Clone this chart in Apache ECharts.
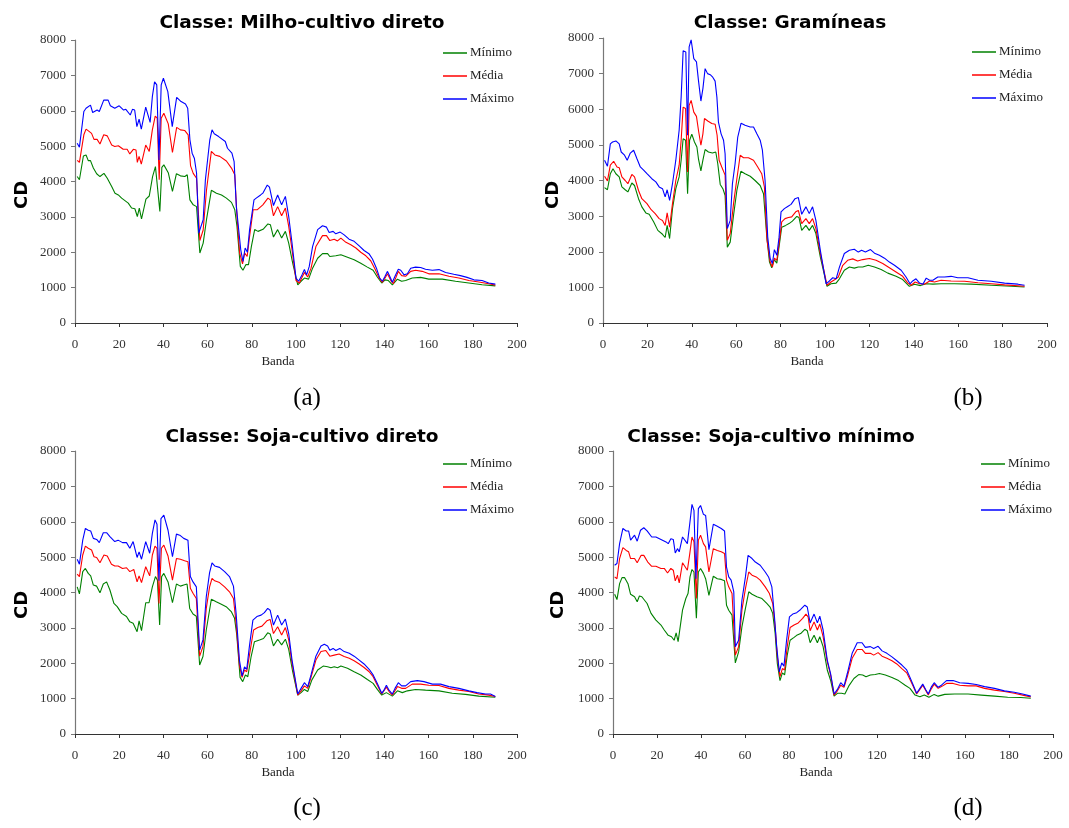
<!DOCTYPE html>
<html><head><meta charset="utf-8">
<script src="https://cdn.jsdelivr.net/npm/echarts@6/dist/echarts.min.js"></script>
<style>html,body{margin:0;padding:0;background:#fff}#c{width:1069px;height:828px}</style>
</head><body><div id="c"></div>
<script>
const seriesNames = ['Mínimo', 'Média', 'Máximo'];
const panelTitles = ['Classe: Milho-cultivo direto', 'Classe: Gramíneas', 'Classe: Soja-cultivo direto', 'Classe: Soja-cultivo mínimo'];
const panelLetters = ['(a)', '(b)', '(c)', '(d)'];
const xTicks = [0, 20, 40, 60, 80, 100, 120, 140, 160, 180, 200];
const yTicks = [0, 1000, 2000, 3000, 4000, 5000, 6000, 7000, 8000];

// Panel (a) Milho-cultivo direto: [banda, CD]
const milhoMin = [[1,4140],[2,4050],[3.8,4720],[5,4750],[6,4590],[7,4590],[8.3,4380],[9.8,4220],[11.3,4140],[13.1,4230],[14.6,4090],[16.6,3860],[18.1,3670],[19.6,3620],[21.1,3530],[22.6,3460],[24.1,3390],[25.6,3250],[27.1,3230],[28.2,3010],[29.1,3250],[30.1,2940],[32.1,3500],[33.6,3590],[35.1,4140],[36.4,4420],[37.3,4380],[38.4,3150],[39.3,4400],[40.2,4470],[42.2,4250],[44.1,3720],[45.9,4220],[47.7,4160],[49.7,4140],[50.8,4190],[52,3480],[53.5,3340],[55,3290],[56.5,1980],[58,2260],[59.5,2920],[61.7,3750],[64,3670],[66.3,3620],[68.5,3530],[70.8,3410],[72.3,3200],[73.3,2730],[74.8,1600],[76,1490],[77.3,1650],[78.5,1650],[79.8,2160],[81.3,2640],[82.8,2590],[85.1,2650],[87.3,2800],[88.4,2780],[89.8,2430],[91.7,2640],[93.5,2400],[95.2,2590],[96.7,2260],[98.5,1690],[100.8,1080],[102.3,1180],[103.8,1270],[105.7,1240],[107.5,1550],[109.8,1830],[112,1960],[114.3,1960],[115.3,1880],[118,1900],[120.3,1930],[123.3,1860],[126.3,1790],[129.3,1690],[132.3,1580],[134.9,1490],[136.8,1300],[138.8,1130],[140.3,1220],[141.8,1200],[143.6,1080],[145.9,1240],[147.8,1180],[149.6,1200],[152.6,1270],[156.4,1290],[160.1,1240],[166.2,1240],[172.2,1180],[178.2,1130],[184.2,1080],[190.2,1050]];
const milhoMed = [[1,4600],[2,4540],[4,5320],[5,5480],[6.5,5410],[7.5,5360],[8.6,5190],[10,5190],[11.3,5060],[13,5320],[14.6,5290],[16.6,5030],[18,4990],[19.6,5010],[21.8,4910],[23.6,4910],[24.8,4780],[26.4,4910],[27.6,4890],[28.2,4540],[29,4710],[30,4490],[32,5030],[33.6,4850],[35,5460],[36.3,5850],[37.2,5790],[38.1,4050],[39,5790],[40.2,5930],[42.2,5630],[44.1,4820],[46,5530],[47.7,5460],[49.7,5440],[51.2,5320],[52.3,4440],[53.5,4230],[55,4090],[56.5,2330],[58,2630],[59.5,3760],[61.7,4850],[63.3,4750],[65.5,4710],[68.5,4580],[70.8,4380],[72.3,4190],[73.3,3010],[74.5,1980],[75.8,1670],[76.8,1980],[77.9,1880],[79,2450],[80.6,3200],[82.4,3200],[85,3340],[87.3,3530],[88.4,3480],[89.8,3030],[91.7,3290],[93.5,3030],[95.2,3250],[96.7,2730],[98.2,2070],[100,1200],[101.5,1130],[103.8,1430],[105.3,1300],[106.8,1550],[109,2160],[112,2470],[113.8,2470],[115.3,2330],[117.3,2370],[118.8,2320],[120.3,2400],[122.6,2280],[124.8,2210],[127.1,2120],[129.3,2000],[131.6,1900],[133.8,1760],[135.8,1520],[137.6,1270],[139.1,1150],[140.3,1270],[141.4,1390],[142.9,1200],[144,1110],[145.1,1270],[146.3,1460],[147.8,1340],[149.6,1320],[151.9,1460],[154.1,1490],[157.1,1460],[160.1,1390],[164.7,1390],[169.2,1320],[173.7,1270],[178.2,1200],[182.7,1160],[187.2,1110],[190.2,1070]];
const milhoMax = [[1,5080],[2,4970],[4,5980],[5,6070],[7,6160],[8,5950],[10,6020],[11,5980],[13,6300],[15,6300],[16,6140],[18,6070],[20,6140],[22,6020],[23,6040],[25,5880],[26,6040],[27,6020],[28,5550],[29,5760],[30,5480],[32,6100],[34,5670],[35,6400],[36,6820],[37,6730],[38,4610],[39,6730],[40,6920],[42,6540],[44,5550],[46,6380],[48,6260],[50,6190],[51,6070],[52,5180],[53,4800],[54,4660],[55,4240],[56,2540],[58,2920],[59,4050],[61,5180],[62,5460],[63,5350],[65,5270],[68,5130],[69,4940],[71,4800],[72,4560],[73,3290],[75,2070],[76,1740],[77,2120],[78,2000],[79,2640],[81,3480],[82,3530],[84,3620],[85,3670],[87,3900],[88,3840],[89.8,3320],[91.7,3620],[93.5,3340],[95.2,3580],[96.7,3010],[98.2,2260],[100,1270],[101.2,1180],[102.7,1360],[103.8,1510],[104.8,1360],[106,1600],[107.5,2160],[109.8,2640],[112,2750],[113.8,2710],[115,2560],[116.8,2590],[118,2520],[120,2570],[121.8,2490],[124,2370],[126.3,2310],[128.6,2180],[130.8,2050],[133,1960],[134.6,1810],[136.4,1550],[137.9,1270],[139.1,1180],[140.3,1320],[141.4,1460],[142.4,1320],[143.6,1150],[144.8,1320],[146.3,1520],[147.4,1490],[148.9,1360],[150.4,1390],[151.9,1550],[154.1,1580],[156.4,1570],[158.6,1520],[161.7,1490],[164.7,1510],[167.7,1430],[171.4,1380],[174.4,1340],[177.4,1290],[180.5,1220],[184.2,1200],[187.2,1130],[190.2,1100]];

// Panel (b) Gramíneas
const gramMin = [[0.7,3800],[2,3740],[3.3,4190],[4.5,4330],[5.8,4190],[7.3,4100],[8.5,3820],[10,3740],[11.2,3680],[13,3930],[14.2,3860],[16,3490],[17.5,3260],[19.3,3090],[20.8,3050],[22.8,2840],[24.7,2600],[26.8,2490],[28,2400],[28.9,2740],[30,2370],[31.3,3210],[32.8,3770],[34.3,4100],[35.2,4570],[36.1,5170],[37.2,5130],[38.1,3630],[39,5130],[40,5300],[41.2,5080],[42.3,4940],[43,4610],[44.1,4270],[45,4570],[46,4870],[47.5,4800],[49.3,4770],[50.8,4800],[51.7,4470],[52.8,3890],[54,3770],[55,3580],[56,2130],[57.3,2270],[58.8,3020],[60.3,3720],[62.1,4260],[64,4190],[66.3,4120],[68.5,4000],[70.8,3860],[72.3,3630],[73.8,2410],[75,1710],[76,1550],[77.1,1780],[78.3,1680],[79.5,2230],[80.5,2690],[82.3,2740],[83.8,2790],[85.3,2860],[87.3,2990],[88.3,2960],[89.5,2600],[91.4,2740],[92.9,2600],[94.4,2740],[95.9,2510],[97.9,1850],[100.9,1030],[102.7,1100],[105,1120],[106.5,1240],[108.7,1480],[111,1570],[113.2,1540],[115,1570],[117,1570],[119.5,1620],[122.3,1570],[125.3,1500],[128.3,1400],[132,1310],[135,1220],[138,1030],[140.3,1090],[143,1050],[145.6,1100],[148.6,1090],[152.3,1100],[158.3,1100],[165.9,1090],[174.9,1060],[183.9,1030],[189.9,1010]];
const gramMed = [[0.7,4120],[2,3990],[3.3,4430],[4.8,4540],[6.3,4380],[7.3,4360],[8.5,4100],[10,4000],[11.2,3910],[13,4170],[14.2,4100],[16,3720],[17.5,3490],[19.8,3350],[21.7,3180],[23.5,3070],[25.3,2930],[26.8,2880],[28,2740],[28.9,3090],[30,2690],[31.3,3350],[32.8,4000],[34.3,4430],[35.2,5130],[36.1,6060],[37.2,6020],[38.1,4240],[38.8,6110],[39.7,6250],[40.9,5920],[42.1,5800],[43,5410],[44.1,4990],[45,5310],[45.7,5740],[47.2,5670],[49,5600],[50.5,5580],[51.4,5270],[52.3,4570],[53.5,4380],[55,4150],[56,2320],[57.3,2510],[58.8,3350],[60.3,4050],[61.8,4710],[63.3,4640],[65.5,4640],[67.8,4570],[69.7,4380],[71.5,4190],[72.7,3820],[73.9,2320],[75.3,1710],[76.3,1570],[77.2,1820],[78.3,1760],[79.5,2320],[80.5,2840],[82,2930],[83.5,2960],[85,2980],[86.8,3120],[88,3160],[89.5,2790],[91.4,2930],[92.9,2790],[94.4,2930],[95.9,2650],[97.9,1950],[100.9,1060],[102.7,1150],[104.5,1220],[106,1290],[108,1620],[110.2,1760],[112.5,1800],[114.7,1740],[117,1780],[120,1810],[123,1760],[126,1670],[129,1550],[132,1430],[135,1310],[137.3,1120],[138.8,1060],[140.6,1150],[142.6,1100],[144.8,1090],[147.1,1180],[149.3,1150],[152.3,1200],[156.8,1180],[162.9,1170],[168.9,1130],[174.9,1100],[180.9,1070],[189.9,1030]];
const gramMax = [[0.7,4570],[2,4400],[3.3,5030],[4.3,5080],[5.8,5110],[7.3,5030],[8.2,4800],[9.7,4710],[10.9,4570],[12.3,4770],[13.8,4850],[15.3,4610],[16.8,4380],[18.3,4290],[19.8,4190],[22,4050],[23.8,3960],[25.3,3820],[26.8,3770],[28,3540],[28.9,3740],[30,3440],[31.3,3910],[32.8,4570],[34.3,5410],[35.2,6340],[36.1,7640],[37.3,7610],[38.1,5270],[38.8,7750],[39.7,7950],[40.9,7420],[42.1,7330],[43,6810],[44.1,6230],[45,6580],[46,7140],[47.1,7000],[48.3,6970],[49.3,6910],[50.5,6790],[51.3,6340],[52,5640],[53.2,5310],[54.3,5130],[55,4750],[56,2650],[57.3,2880],[58.3,3910],[59.5,4470],[60.7,5220],[62.2,5610],[64,5550],[66.3,5500],[67.8,5500],[69.3,5310],[70.8,5130],[71.8,4850],[73,4000],[74.2,2410],[75.3,1810],[76.3,1670],[77.2,2060],[78.3,1900],[79.3,2410],[80.2,3120],[81.7,3210],[83.2,3270],[84.7,3330],[86.5,3490],[88,3520],[89.5,3050],[91.4,3260],[92.9,3070],[94.4,3260],[95.9,2880],[97.9,2040],[100.5,1100],[102,1180],[103.5,1270],[105,1240],[106.5,1570],[108.7,1950],[111,2040],[113.2,2070],[115,1990],[116.5,2040],[118.2,1990],[120.5,2060],[122.3,1960],[124.5,1900],[126.8,1820],[129,1710],[131.3,1620],[134.3,1480],[136.5,1290],[138.3,1100],[139.5,1180],[141,1240],[142.6,1120],[144.1,1090],[145.6,1260],[147.1,1200],[148.6,1200],[150.8,1290],[153.8,1290],[156.8,1310],[159.8,1270],[164.4,1270],[168.9,1200],[174.9,1170],[180.9,1120],[186.9,1090],[189.9,1060]];

// Panel (c) Soja-cultivo direto
const sojaDirMin = [[1,4160],[2,3960],[3.5,4590],[4.7,4680],[6,4540],[7.1,4470],[8.3,4210],[9.8,4180],[11.3,3990],[12.8,4240],[14.3,4300],[15.8,4070],[17.6,3690],[19.1,3600],[21.1,3410],[23.3,3320],[24.8,3170],[26.3,3130],[27.2,3080],[28.1,2890],[29,3200],[30.1,2920],[32,3710],[33.5,3710],[35,4160],[36.4,4450],[37.3,4350],[38.3,3080],[39.2,4450],[40.2,4540],[42.1,4300],[44.1,3710],[45.9,4240],[47.7,4180],[49.2,4210],[50.7,4240],[51.9,3550],[53.4,3390],[54.9,3330],[56.4,1950],[57.9,2190],[59.4,2940],[61.7,3810],[63.9,3740],[66.2,3670],[68.4,3600],[70.7,3460],[72.2,3270],[73.2,2800],[74.7,1600],[75.9,1480],[77.1,1670],[78.2,1620],[79.7,2190],[81.2,2610],[83.5,2660],[85.3,2700],[87.2,2860],[88.3,2830],[89.8,2490],[91.7,2680],[93.5,2520],[95.2,2680],[96.7,2390],[98.5,1760],[100.8,1100],[102.3,1170],[103.8,1260],[105.3,1200],[107.2,1530],[109.8,1810],[112.3,1920],[114.3,1900],[115.8,1870],[117.3,1900],[118.8,1870],[120.3,1920],[123.3,1860],[126.3,1760],[129.3,1670],[132.3,1540],[134.9,1430],[136.8,1260],[138.8,1100],[140.9,1170],[143.6,1070],[145.9,1220],[148.1,1170],[150.4,1220],[154.1,1260],[158.6,1240],[164.7,1220],[170.7,1150],[176.7,1120],[182.7,1070],[190.2,1040]];
const sojaDirMed = [[1,4520],[2,4450],[3.5,5060],[4.7,5310],[6,5250],[7.5,5200],[8.6,5010],[9.8,4990],[11.3,4840],[13.1,5060],[14.6,5030],[16.5,4800],[18,4750],[19.5,4750],[21.5,4680],[23.3,4700],[24.8,4590],[26.6,4650],[27.5,4620],[28.1,4300],[29,4470],[30.1,4280],[32,4730],[33.8,4470],[35,5060],[36.2,5310],[37.1,5250],[38,3690],[39.1,5250],[40.2,5340],[42.1,5030],[44.1,4350],[45.9,4960],[47.7,4940],[49.6,4900],[51.1,4870],[52.2,4120],[53.4,3980],[54.9,3830],[56.4,2200],[57.9,2470],[59.4,3550],[60.9,4160],[62,4400],[63.2,4330],[65.4,4280],[67.7,4160],[69.9,4020],[71.7,3830],[72.9,3130],[74.4,1950],[75.6,1600],[76.7,1810],[77.7,1760],[79.2,2330],[80.8,2940],[82.7,3010],[84.6,3050],[86.8,3200],[88.3,3240],[89.8,2840],[91.7,3030],[93.5,2800],[95.2,3010],[96.7,2660],[98.2,2000],[100.8,1100],[102.3,1220],[103.8,1360],[105.3,1290],[106.8,1600],[109,2090],[111.3,2330],[113.5,2360],[115.3,2200],[117.3,2230],[119.5,2260],[121.8,2190],[124.1,2140],[126.3,2070],[128.6,1980],[130.8,1880],[133.1,1760],[134.9,1620],[136.8,1380],[138.8,1130],[140.9,1320],[142.1,1200],[143.6,1100],[145.9,1340],[147.8,1290],[149.6,1290],[152.6,1410],[156.4,1410],[160.1,1380],[164.7,1370],[169.2,1290],[173.7,1240],[178.2,1200],[182.7,1130],[187.2,1100],[190.2,1060]];
const sojaDirMax = [[1,4940],[2,4800],[3.5,5480],[4.7,5810],[6,5760],[7.1,5740],[8.3,5530],[9.8,5500],[11,5410],[12.8,5690],[14.3,5690],[15.8,5580],[18,5440],[19.5,5480],[21.5,5410],[23.3,5410],[24.8,5250],[26.3,5440],[27.2,5410],[28.1,4990],[29,5150],[30.1,4940],[32,5440],[33.8,5110],[35,5670],[36.2,6050],[37.1,5930],[38,4330],[38.9,6090],[40.2,6190],[42.1,5760],[44.1,5010],[45.9,5650],[47.4,5620],[49.2,5530],[51.1,5480],[52.2,4450],[53.4,4300],[54.9,4160],[56.4,2370],[57.9,2660],[59.4,3880],[60.9,4560],[62,4840],[63.2,4750],[65.4,4710],[67.7,4590],[69.9,4450],[71.7,4180],[72.9,3410],[74.4,2090],[75.6,1640],[76.7,1900],[77.7,1830],[78.9,2470],[80.5,3220],[82.3,3320],[84.2,3360],[85.7,3430],[87.2,3550],[88.3,3500],[89.8,3080],[91.7,3360],[93.5,3080],[95.2,3250],[96.7,2840],[98.2,2090],[100.8,1130],[102.3,1290],[103.8,1450],[105.3,1340],[106.8,1670],[109,2200],[111.3,2490],[112.8,2540],[114.3,2490],[115.3,2370],[116.8,2420],[118,2360],[119.8,2420],[121.8,2330],[124.1,2280],[126.3,2200],[128.6,2090],[130.8,1980],[133.1,1830],[134.9,1670],[136.8,1430],[138.8,1150],[139.8,1240],[140.9,1380],[142.1,1240],[143.6,1130],[144.8,1290],[146.3,1450],[147.8,1360],[149.6,1360],[151.9,1480],[154.9,1510],[157.9,1480],[161.7,1410],[165.4,1410],[169.2,1340],[173.7,1290],[178.2,1220],[181.9,1170],[185.7,1130],[188,1130],[190.2,1060]];

// Panel (d) Soja-cultivo mínimo
const sojaMinMin = [[0.75,3950],[1.8,3800],[3,4250],[4.1,4420],[5.3,4420],[6.8,4250],[8,3950],[9.8,3880],[11,3740],[12,3900],[13.1,3880],[14,3920],[15.5,3690],[17.3,3410],[19.5,3220],[21.8,3080],[23.3,2940],[25.1,2790],[26.6,2750],[27.8,2650],[28.7,2860],[29.6,2610],[31.6,3500],[33.1,3830],[34.1,3970],[35,4440],[35.9,4650],[36.8,4580],[37.9,3270],[38.8,4580],[39.8,4680],[41.1,4540],[42.1,4390],[43.6,3920],[45.6,4460],[47.4,4390],[49.2,4370],[50.7,4330],[51.6,3640],[52.6,3500],[54.1,3360],[55.6,2010],[57.1,2320],[58.6,3030],[60.2,3550],[61.7,4020],[63.2,3950],[65.4,3880],[67.7,3830],[69.9,3690],[71.4,3590],[72.6,3410],[73.7,2840],[74.7,1990],[75.9,1510],[77,1730],[78,1670],[79.2,2230],[80.5,2650],[82.3,2730],[83.5,2790],[85.3,2840],[87.2,2960],[88.3,2920],[89.6,2580],[91.4,2790],[92.9,2580],[94,2750],[95.5,2470],[97.4,1810],[98.9,1520],[100.5,1070],[102,1150],[103.9,1150],[105.4,1130],[107.2,1360],[109.5,1570],[111.7,1680],[113.5,1670],[115,1620],[117,1670],[119.2,1680],[121.1,1710],[123.8,1670],[126.8,1600],[129.8,1510],[132.8,1380],[135,1290],[137.3,1100],[139.5,1050],[141.5,1100],[143.6,1040],[146,1120],[147.8,1070],[150.8,1120],[155.3,1130],[161.4,1130],[167.4,1100],[173.4,1070],[179.4,1040],[185.4,1030],[189.9,1010]];
const sojaMinMed = [[0.75,4440],[1.8,4390],[3,4960],[4.5,5270],[6,5190],[7.1,5150],[8,4960],[9.8,4960],[11,4840],[12.8,5050],[14,5050],[15.8,4860],[17.6,4740],[19.5,4740],[21.8,4680],[23.3,4680],[24.8,4550],[26.3,4680],[27.4,4630],[28.3,4330],[29.3,4490],[30.1,4270],[31.6,4840],[33.8,4630],[34.9,5100],[35.9,5570],[36.8,5430],[37.9,3830],[38.8,5480],[39.8,5620],[41.1,5380],[42.1,5290],[43.6,4580],[45.6,5240],[47.4,5190],[49.2,5150],[50.7,5100],[51.6,4350],[52.6,4160],[54.1,3970],[55.6,2230],[57.1,2470],[58.6,3500],[60.2,4110],[61.7,4580],[63.2,4490],[65.1,4440],[66.9,4350],[69.2,4160],[71.1,3970],[72.6,3690],[73.7,3030],[74.7,2180],[75.9,1620],[77,1850],[78,1810],[79.2,2470],[80.5,3010],[82.3,3080],[84.2,3140],[86.2,3270],[87.7,3390],[88.7,3310],[89.6,2920],[91.4,3170],[92.9,2940],[94,3110],[95.5,2750],[97.4,2040],[98.9,1670],[100.5,1100],[102,1220],[103.5,1380],[105,1320],[106.5,1620],[108.7,2140],[111,2390],[113.2,2390],[114.7,2280],[117,2280],[118.5,2230],[120.5,2300],[122.3,2200],[124.5,2140],[126.8,2070],[129,1980],[131.3,1850],[133.5,1730],[135,1540],[136.5,1340],[138,1130],[139.5,1260],[140.8,1380],[142.1,1240],[143.3,1100],[144.8,1290],[146,1410],[147.8,1290],[149.3,1340],[151.6,1430],[154.6,1430],[157.6,1380],[161.4,1360],[165.1,1360],[168.9,1290],[173.4,1240],[177.9,1200],[182.4,1150],[186.2,1100],[189.9,1050]];
const sojaMinMax = [[0.75,4770],[1.8,4820],[3,5380],[4.5,5810],[6,5740],[7.1,5740],[8,5480],[9.8,5620],[11,5450],[12.5,5760],[14,5830],[15.5,5740],[17.6,5570],[19.5,5570],[21.8,5500],[24.1,5430],[25.1,5380],[26.3,5520],[27.4,5500],[28.3,5120],[29.3,5240],[30.1,5150],[31.6,5570],[33.8,5380],[34.9,5950],[35.9,6490],[36.8,6320],[37.7,4390],[38.8,6370],[39.8,6460],[41.1,6210],[42.1,6180],[43.6,5210],[45.6,5930],[47.4,5870],[49.2,5810],[50.7,5740],[51.6,4720],[52.6,4440],[53.7,4350],[54.9,4020],[55.6,2470],[57.1,2650],[58.6,3780],[60.2,4440],[61.4,5050],[63.2,4960],[64.7,4860],[66.9,4770],[69.2,4580],[70.7,4440],[72.2,4160],[73.4,3310],[74.4,2470],[75.6,1760],[76.7,2010],[77.7,1920],[78.9,2650],[80.2,3310],[81.7,3390],[83.5,3430],[85.3,3520],[87.2,3640],[88.3,3590],[89.6,3140],[91.4,3390],[92.9,3140],[94,3330],[95.5,2940],[97.4,2090],[98.9,1710],[100.5,1130],[102,1260],[103.5,1450],[105,1350],[106.5,1710],[108.7,2280],[111,2580],[113.2,2580],[114.7,2450],[117,2470],[118.5,2420],[120.5,2480],[122.3,2350],[124.5,2280],[126.8,2180],[129,2070],[131.3,1950],[133.5,1810],[135,1600],[136.5,1380],[138,1150],[139.5,1290],[140.8,1410],[142.1,1260],[143.3,1130],[144.8,1340],[146,1450],[147.8,1320],[149.3,1380],[151.6,1510],[154.6,1510],[157.6,1450],[161.4,1430],[165.1,1400],[168.9,1340],[173.4,1290],[177.9,1220],[182.4,1180],[186.2,1130],[189.9,1070]];

const panelData = [
  [milhoMin, milhoMed, milhoMax],
  [gramMin, gramMed, gramMax],
  [sojaDirMin, sojaDirMed, sojaDirMax],
  [sojaMinMin, sojaMinMed, sojaMinMax]
];
const colors = ['#008000', '#FF0000', '#0000FF'];

// layout
const grids = [
  {left: 75, top: 40, width: 442, height: 283},
  {left: 603, top: 38, width: 444, height: 285},
  {left: 75, top: 451, width: 442, height: 283},
  {left: 613, top: 451, width: 440, height: 283}
];
const titlePos = [[302, 23], [790, 23], [302, 437], [771, 437]];
const cdPos = [[22, 195], [553, 195], [22, 605], [558, 605]];
const bandaPos = [[278, 362], [807, 362], [278, 773], [816, 773]];
const letterPos = [[307, 398], [968, 398], [307, 808], [968, 808]];
const legendPos = [[438, 41], [967, 40], [438, 452], [976, 452]];

const serif = '"Liberation Serif", "Times New Roman", serif';
const sans = '"DejaVu Sans", Verdana, sans-serif';

const xAxis = [], yAxis = [], series = [], legend = [], graphic = [];
grids.forEach((g, i) => {
  xAxis.push({
    type: 'value', gridIndex: i, min: 0, max: 200, interval: 20,
    axisLine: {lineStyle: {color: '#333', width: 1.2}},
    axisTick: {show: true, inside: false, length: 4, lineStyle: {color: '#333'}},
    axisLabel: {fontFamily: serif, fontSize: 13, color: '#333', margin: 15,
      formatter: v => xTicks.includes(v) ? String(v) : ''},
    splitLine: {show: false}
  });
  yAxis.push({
    type: 'value', gridIndex: i, min: 0, max: 8000, interval: 1000,
    axisLine: {show: true, lineStyle: {color: '#777', width: 1.2}},
    axisTick: {show: true, inside: false, length: 4, lineStyle: {color: '#777'}},
    axisLabel: {fontFamily: serif, fontSize: 13, color: '#333', margin: 9,
      formatter: v => yTicks.includes(v) ? String(v) : ''},
    splitLine: {show: false}
  });
  panelData[i].forEach((d, k) => {
    series.push({
      type: 'line', name: seriesNames[k], xAxisIndex: i, yAxisIndex: i,
      data: d, showSymbol: false, symbol: 'none', smooth: false,
      lineStyle: {color: colors[k], width: 1.1}, itemStyle: {color: colors[k]},
      clip: true, animation: false
    });
  });
  legend.push({
    data: seriesNames, orient: 'vertical', left: legendPos[i][0], top: legendPos[i][1],
    icon: 'rect', itemWidth: 24, itemHeight: 1.5, itemGap: 9,
    textStyle: {fontFamily: serif, fontSize: 13, color: '#222', lineHeight: 14, padding: [0, 0, 0, -2]},
    selectedMode: false
  });
  graphic.push({type: 'text', x: titlePos[i][0], y: titlePos[i][1],
    style: {text: panelTitles[i], font: 'bold 18.5px ' + sans, fill: '#000', align: 'center', verticalAlign: 'middle'}});
  graphic.push({type: 'text', x: cdPos[i][0], y: cdPos[i][1], rotation: Math.PI / 2,
    style: {text: 'CD', font: 'bold 18px ' + sans, fill: '#000', align: 'center', verticalAlign: 'middle'}});
  graphic.push({type: 'text', x: bandaPos[i][0], y: bandaPos[i][1],
    style: {text: 'Banda', font: '13px ' + serif, fill: '#222', align: 'center', verticalAlign: 'middle'}});
  graphic.push({type: 'text', x: letterPos[i][0], y: letterPos[i][1],
    style: {text: panelLetters[i], font: '25px ' + serif, fill: '#000', align: 'center', verticalAlign: 'middle'}});
});

const chart = echarts.init(document.getElementById('c'), null, {renderer: 'canvas'});
chart.setOption({
  animation: false,
  backgroundColor: '#fff',
  grid: grids,
  xAxis, yAxis, series, legend, graphic
});
</script>
</body></html>
